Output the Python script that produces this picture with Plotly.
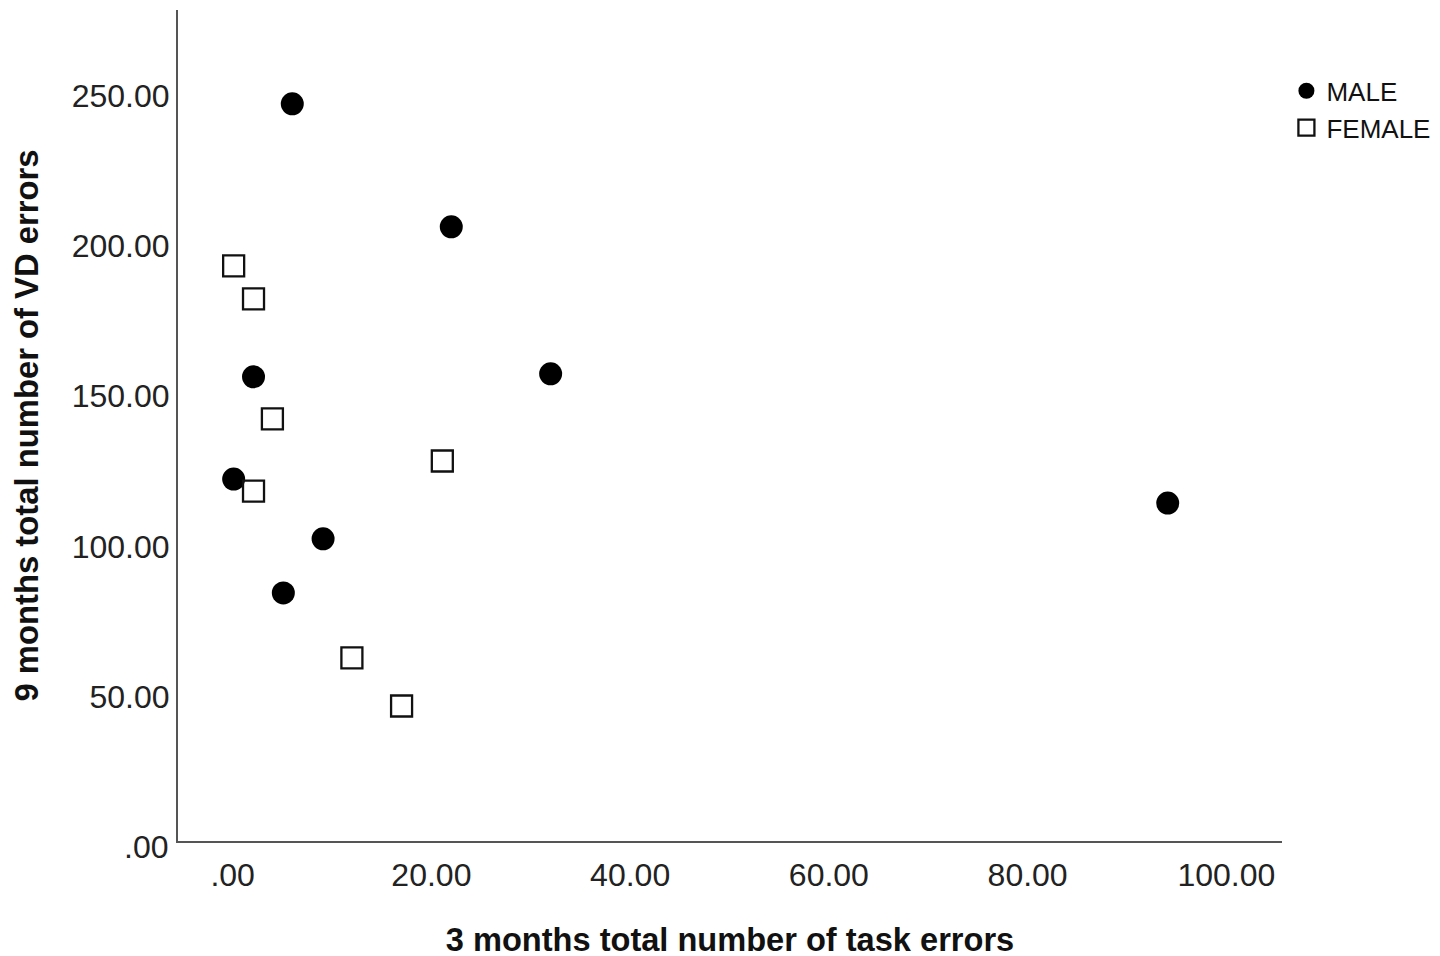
import plotly.graph_objects as go

male_x = [6.0, 22.0, 32.0, 2.1, 0.1, 9.1, 5.1, 94.1]
male_y = [247.2, 206.3, 157.4, 156.4, 122.4, 102.5, 84.5, 114.4]
female_x = [0.1, 2.1, 4.0, 2.1, 21.1, 12.0, 17.0]
female_y = [193.3, 182.3, 142.4, 118.4, 128.4, 62.9, 46.9]

x_ticks = [0, 20, 40, 60, 80, 100]
x_labels = [".00", "20.00", "40.00", "60.00", "80.00", "100.00"]
y_ticks = [50, 100, 150, 200, 250]
y_labels = ["50.00", "100.00", "150.00", "200.00", "250.00"]
y_zero_label = ".00"

font = "Liberation Sans, Arial, sans-serif"

fig = go.Figure()
fig.add_trace(go.Scatter(
    x=male_x, y=male_y, mode="markers", name="MALE",
    marker=dict(symbol="circle", size=23, color="black", line=dict(width=0)),
    cliponaxis=False,
))
fig.add_trace(go.Scatter(
    x=female_x, y=female_y, mode="markers", name="FEMALE",
    marker=dict(symbol="square-open", size=21, color="#111", line=dict(width=2.3)),
    cliponaxis=False,
))

# the ".00" label of the y axis sits just below the axis line
fig.add_annotation(
    x=0, xref="paper", y=0, yref="paper", text=y_zero_label, showarrow=False,
    xanchor="right", yanchor="middle", xshift=-8, yshift=-6,
    font=dict(size=32, color="#222", family=font),
)

fig.update_layout(
    width=1440, height=956,
    paper_bgcolor="white", plot_bgcolor="white",
    margin=dict(l=170, r=166, t=2, b=123, autoexpand=False),
    font=dict(family=font, color="#111"),
    showlegend=True,
    legend=dict(x=1.004, y=0.931, xanchor="left", yanchor="top",
                font=dict(size=26, color="#111"), itemsizing="trace",
                tracegroupgap=0, bgcolor="rgba(0,0,0,0)", borderwidth=0),
)
fig.update_xaxes(
    range=[-5.5, 105.6], tickvals=x_ticks, ticktext=x_labels,
    showgrid=False, zeroline=False, showline=True, linecolor="#555", linewidth=2,
    ticks="outside", ticklen=5, tickcolor="rgba(0,0,0,0)", tickfont=dict(size=32, color="#222"),
    title=dict(text="<b>3 months total number of task errors</b>", font=dict(size=32.6, color="#111"), standoff=36),
    automargin=False,
)
fig.update_yaxes(
    range=[2.0, 278.4], tickvals=y_ticks, ticktext=y_labels,
    showgrid=False, zeroline=False, showline=True, linecolor="#555", linewidth=2,
    ticks="", tickfont=dict(size=32, color="#222"),
    title=dict(text="<b>9 months total number of VD errors</b>", font=dict(size=32.8, color="#111"), standoff=36),
    automargin=False,
)

fig.write_html("out.html")
